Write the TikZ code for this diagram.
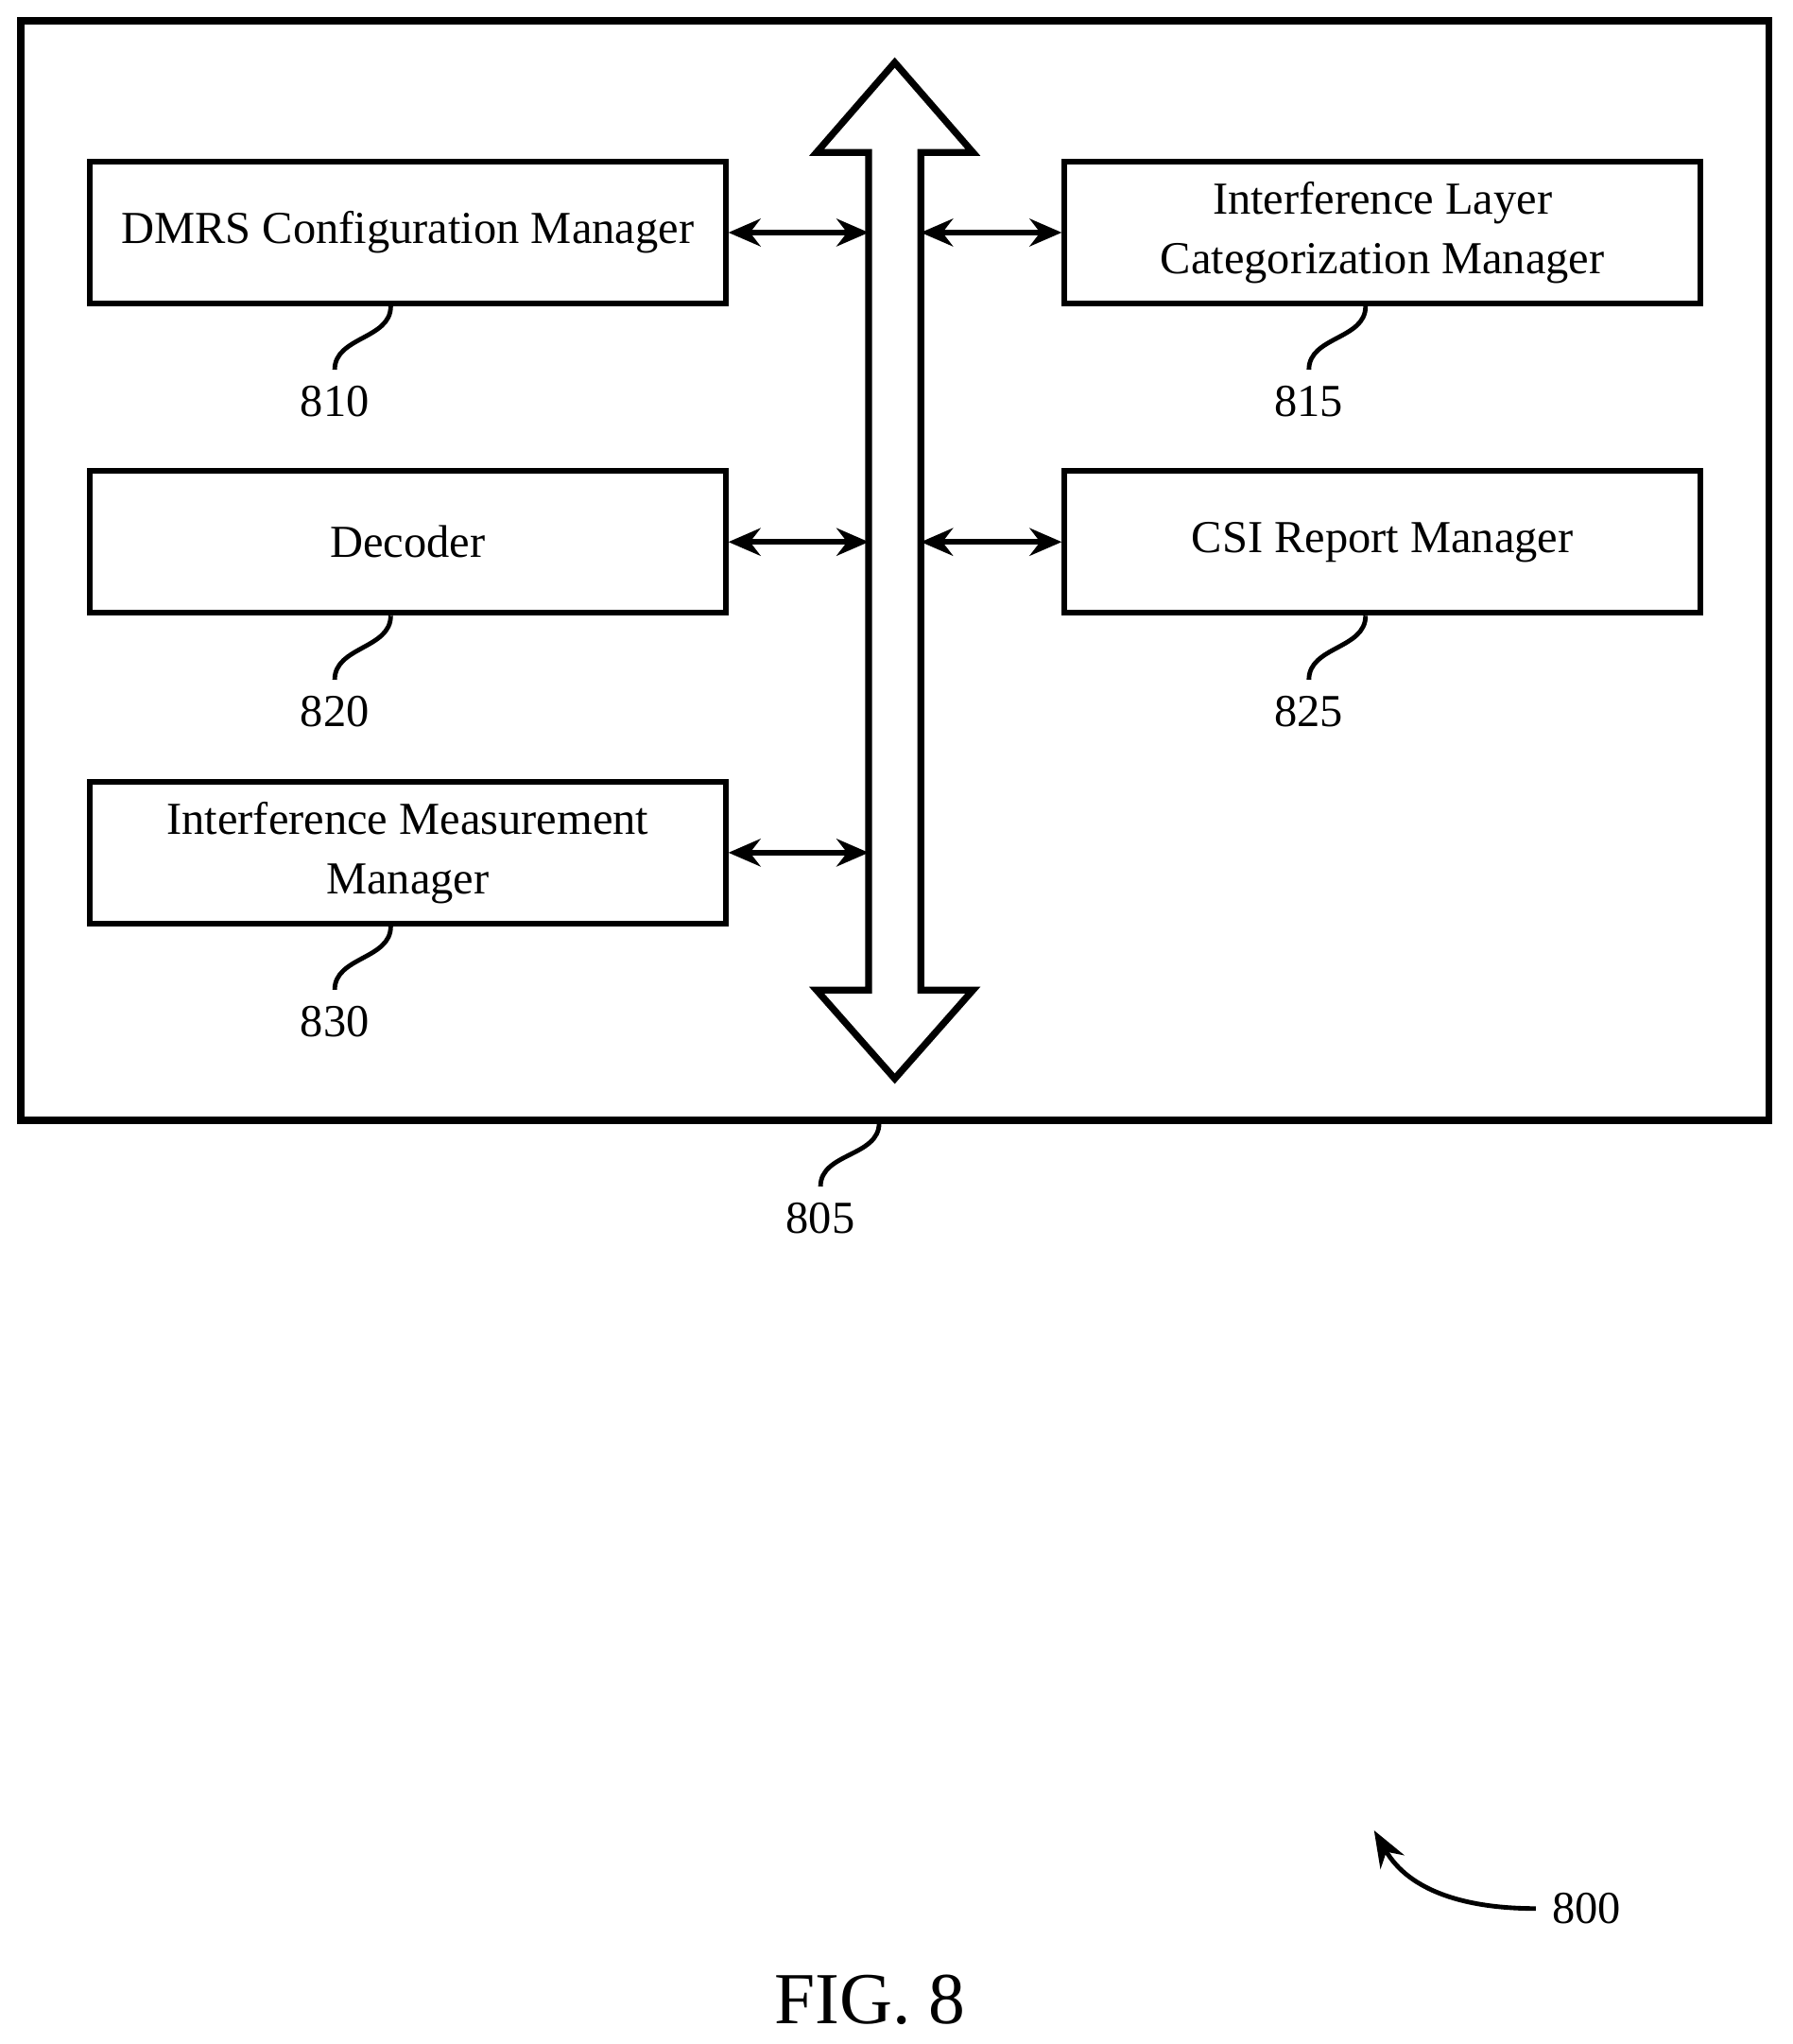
\documentclass[tikz,border=0pt]{standalone}
\usepackage{fontspec}
\setmainfont{Liberation Serif}
\usetikzlibrary{arrows.meta}

\tikzset{
  block/.style={draw, line width=1.2pt, minimum width=4.88cm, minimum height=1.09cm,
    align=center, font=\fontsize{10}{13}\selectfont},
  link/.style={line width=1.2pt, {Stealth[length=7pt,width=6pt]}-{Stealth[length=7pt,width=6pt]}},
  tag/.style={font=\fontsize{10}{12}\selectfont},
  lead/.style={line width=1pt}
}

\begin{document}
\begin{tikzpicture}[x=0.01cm, y=-0.01cm]
\useasboundingbox (0,0) rectangle (1376,1569);

% outer device
\draw[line width=1.5pt] (16,16) rectangle (1358,860);

% bus
\draw[line width=1.5pt] (667,117) -- (627,117) -- (687,48) -- (747,117) -- (707,117)
  -- (707,760) -- (747,760) -- (687,828) -- (627,760) -- (667,760) -- cycle;
\coordinate (busl) at (667,0);
\coordinate (busr) at (707,0);

% blocks
\path (313,178.5) node[block] (b810) {DMRS Configuration Manager}
      (313,416)   node[block] (b820) {Decoder}
      (313,654.5) node[block] (b830) {Interference Measurement\\Manager}
      (1061.5,178.5) node[block] (b815) {Interference Layer\\Categorization Manager}
      (1061.5,416)   node[block] (b825) {CSI Report Manager};

\draw[link] (b810.east) -- (b810.east -| busl);
\draw[link] (b820.east) -- (b820.east -| busl);
\draw[link] (b830.east) -- (b830.east -| busl);
\draw[link] (b815.west) -- (b815.west -| busr);
\draw[link] (b825.west) -- (b825.west -| busr);

% reference numerals
\path (257,308) node[tag] (t810) {810}
      (257,546) node[tag] (t820) {820}
      (257,784) node[tag] (t830) {830}
      (1005,308) node[tag] (t815) {815}
      (1005,546) node[tag] (t825) {825}
      (630,935) node[tag] (t805) {805}
      (1218,1465) node[tag] (t800) {800}
      (668,1535) node[font=\fontsize{16}{18}\selectfont] (fig) {FIG. 8};

\foreach \b/\t in {b810/t810, b820/t820, b830/t830, b815/t815, b825/t825}
  \draw[lead] ([xshift=-0.13cm]\b.south) to[out=-90, in=90] (\t.north);
\draw[lead] (675,862) to[out=-90, in=90] (t805.north);
\draw[lead, -{Stealth[length=8pt,width=6pt]}] (t800.west) to[out=180, in=-60] (1055,1405);
\end{tikzpicture}
\end{document}
